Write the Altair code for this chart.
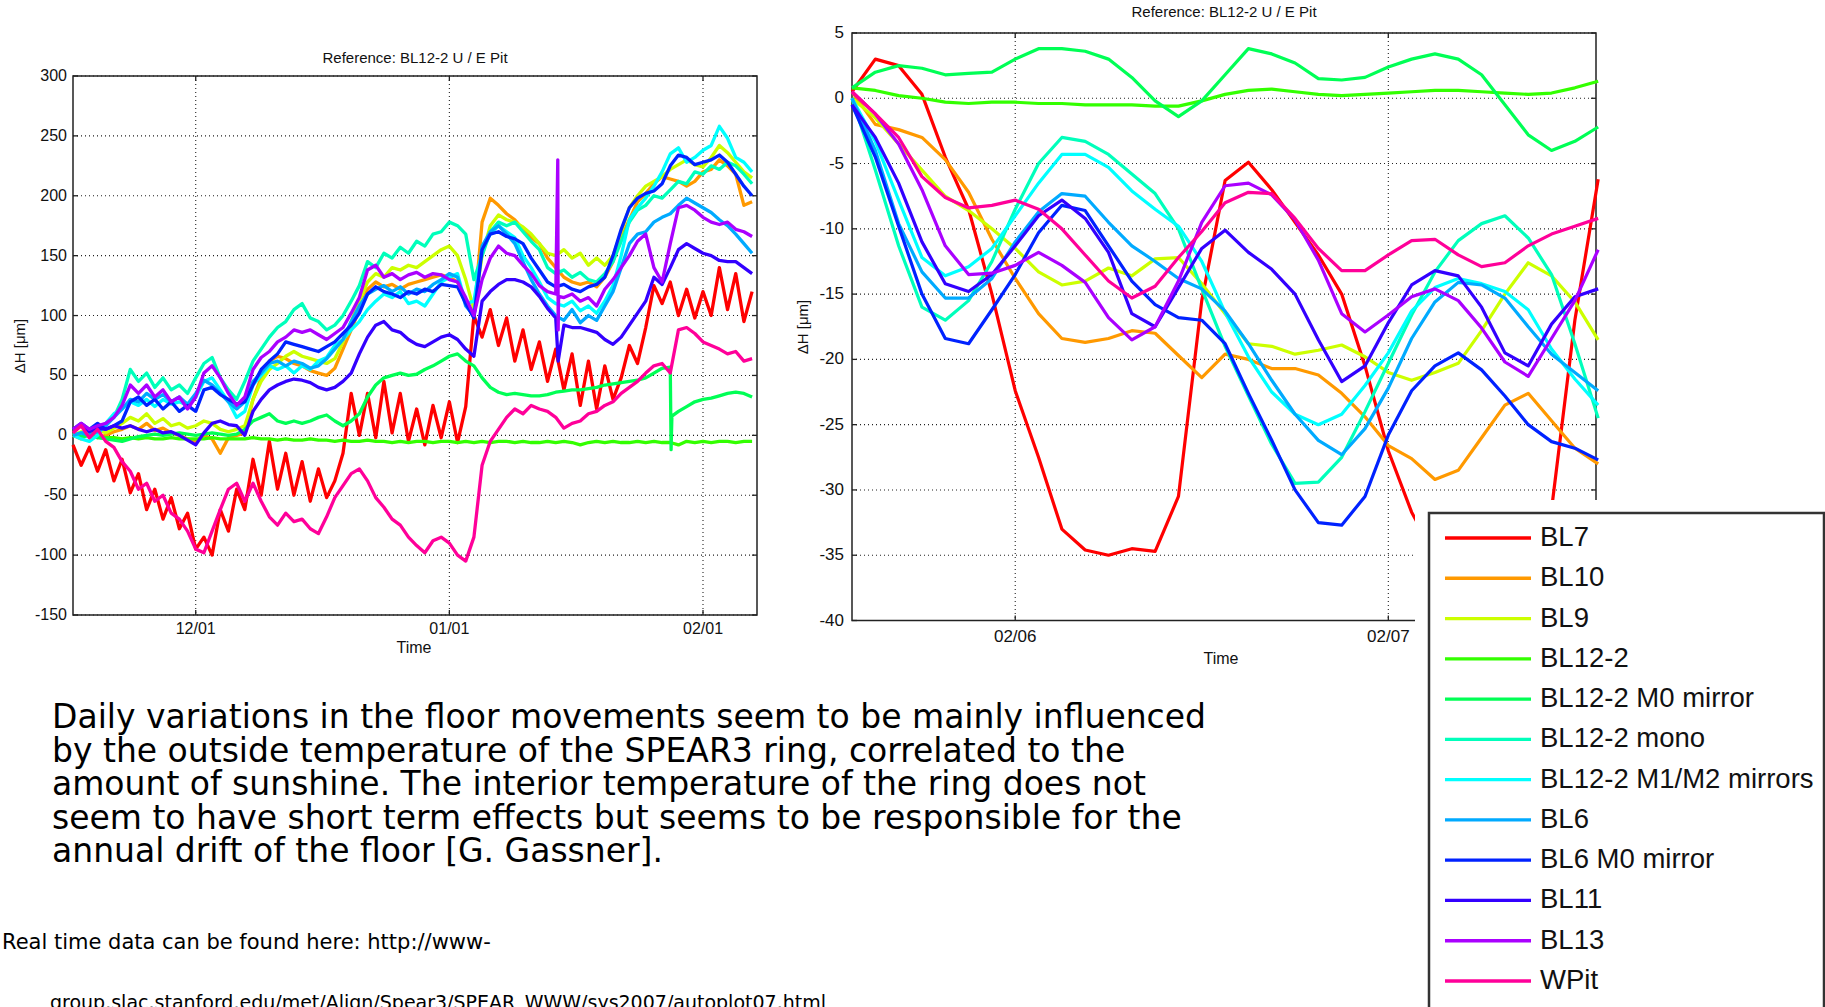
import altair as alt
import pandas as pd

FONT = "Liberation Sans"
SLIDE_FONT = "DejaVu Sans"

NAMES = ["BL7", "BL10", "BL9", "BL12-2", "BL12-2 M0 mirror", "BL12-2 mono",
         "BL12-2 M1/M2 mirrors", "BL6", "BL6 M0 mirror", "BL11", "BL13", "WPit"]
COLORS = ["#ff0000", "#ff9900", "#ccff00", "#33ff00", "#00ff55", "#00ffbb",
          "#00ffff", "#00aaff", "#0022ff", "#3300ff", "#aa00ff", "#ff0099"]

# ---------------- left panel: days since 11/16 ----------------
LEFT_DAYS = list(range(84))
L_BL7 = [-8, -25, -10, -30, -12, -38, -20, -48, -32, -62,
         -45, -70, -52, -78, -65, -95, -85, -100, -62, -80,
         -45, -62, -20, -50, -5, -45, -15, -50, -22, -55,
         -28, -52, -38, -15, 35, 0, 35, -2, 45, 2,
         35, -5, 22, -8, 25, -2, 28, -6, 24, 100,
         82, 105, 75, 98, 62, 88, 55, 78, 45, 72,
         38, 68, 25, 62, 22, 58, 30, 48, 75, 60,
         90, 125, 110, 128, 100, 122, 98, 120, 100, 140,
         105, 135, 95, 120]
L_BL10 = [0, -3, 2, -2, 0, 3, 5, 8, 5, 10,
          4, 6, 2, 0, -3, -5, 0, -3, -15, -2,
          0, 2, 30, 48, 62, 66, 64, 60, 58, 54,
          52, 50, 56, 72, 88, 105, 122, 128, 124, 126,
          122, 126, 128, 130, 132, 134, 132, 128, 112, 100,
          178, 198, 192, 185, 180, 172, 165, 160, 148, 140,
          132, 128, 126, 128, 124, 132, 145, 165, 180, 195,
          202, 210, 216, 214, 212, 208, 212, 220, 222, 230,
          225, 218, 192, 195]
L_BL9 = [0, 3, 0, 5, 2, 6, 10, 15, 12, 18,
         10, 14, 8, 10, 6, 8, 12, 10, 5, 3,
         5, 8, 30, 45, 55, 60, 66, 70, 66, 64,
         62, 60, 64, 78, 95, 112, 128, 135, 132, 140,
         138, 142, 140, 145, 150, 155, 158, 150, 130, 105,
         150, 175, 184, 180, 178, 174, 168, 160, 152, 150,
         155, 148, 152, 142, 148, 142, 150, 170, 190, 200,
         208, 212, 216, 222, 226, 230, 226, 224, 232, 242,
         236, 228, 220, 215]
L_BL122 = [0, -1, 0, -1, -2, -2, -3, -2, -3, -2,
           -3, -3, -2, -3, -3, -3, -3, -2, -3, -3,
           -3, -3, -2, -3, -3, -4, -3, -4, -4, -3,
           -4, -4, -5, -4, -5, -5, -4, -5, -5, -6,
           -5, -6, -5, -5, -6, -5, -5, -6, -5, -6,
           -5, -6, -5, -5, -6, -5, -6, -6, -5, -6,
           -5, -6, -8, -6, -5, -6, -5, -6, -6, -5,
           -6, -5, -6, -6, -8, -5, -6, -5, -6, -5,
           -5, -6, -5, -5]
L_M0 = [0, -1, 0, -2, -3, -4, -5, -3, -1, 0,
        1, 0, 1, 2, 1, 0, 1, 2, 1, 0,
        1, 5, 12, 15, 18, 12, 10, 12, 10, 12,
        15, 17, 12, 8, 12, 18, 32, 42, 48, 50,
        52, 50, 51, 55, 58, 62, 66, 68, 62, 58,
        48, 40, 36, 34, 35, 34, 33, 33, 34, 36,
        37, 38, 38, 39, 40, 42, 43, 44, 45, 46,
        48, 52, 56, 57, 20, 24, 28, 30, 31, 33,
        35, 36, 35, 32]
L_MONO = [0, 2, 4, 5, 10, 15, 30, 55, 45, 52,
          40, 48, 38, 42, 35, 48, 60, 65, 48, 38,
          30, 45, 62, 72, 82, 90, 95, 105, 110, 98,
          95, 88, 92, 100, 112, 125, 145, 140, 152, 148,
          157, 152, 162, 158, 168, 170, 178, 175, 168, 130,
          150, 170, 178, 175, 178, 170, 162, 155, 140, 135,
          138, 132, 136, 130, 128, 135, 145, 162, 178, 188,
          192, 200, 198, 205, 212, 210, 220, 218, 225, 222,
          228, 225, 218, 210]
L_M12 = [0, -3, -5, 0, 10, 18, 22, 28, 25, 30,
         24, 30, 26, 28, 25, 32, 45, 48, 38, 28,
         15, 20, 42, 50, 58, 55, 58, 52, 58, 55,
         62, 65, 75, 80, 88, 95, 105, 112, 118, 115,
         120, 110, 112, 108, 118, 128, 132, 135, 110, 112,
         155, 168, 175, 170, 165, 150, 140, 128, 115, 110,
         108, 112, 104, 108, 102, 112, 125, 150, 180, 190,
         198, 208, 220, 235, 240, 228, 232, 238, 242, 258,
         248, 232, 228, 220]
L_BL6 = [0, 2, 0, 3, 8, 15, 22, 30, 28, 35,
         30, 34, 28, 32, 26, 35, 46, 42, 35, 28,
         22, 28, 45, 52, 60, 62, 58, 62, 60, 56,
         58, 64, 72, 80, 95, 108, 118, 122, 125, 120,
         124, 118, 122, 120, 126, 130, 135, 132, 108, 100,
         158, 170, 175, 168, 160, 145, 130, 118, 108, 100,
         96, 105, 94, 100, 96, 108, 120, 140, 160, 168,
         170, 178, 182, 185, 192, 198, 194, 190, 186, 180,
         175, 168, 160, 152]
L_BL6M0 = [5, 10, 5, 10, 5, 8, 12, 28, 32, 25,
           30, 22, 28, 20, 25, 20, 38, 40, 34, 30,
           26, 28, 42, 55, 62, 68, 78, 76, 74, 72,
           70, 74, 78, 85, 92, 102, 118, 124, 120, 118,
           115, 120, 118, 122, 120, 126, 125, 124, 110, 98,
           155, 168, 170, 166, 164, 160, 148, 138, 128, 124,
           126, 122, 120, 124, 126, 132, 150, 172, 190, 198,
           202, 204, 210, 225, 234, 232, 226, 228, 230, 234,
           228, 218, 208, 200]
L_BL11 = [5, 8, 3, 6, 5, 8, 6, 8, 5, 3,
          5, 2, 3, 0, -4, -8, 2, 10, 12, 9,
          8, 0, 20, 30, 38, 42, 45, 47, 46, 44,
          40, 38, 40, 45, 52, 68, 82, 92, 95, 88,
          86, 80, 76, 74, 78, 82, 84, 80, 72, 66,
          112, 120, 126, 130, 130, 128, 124, 116, 106, 98,
          92, 90, 90, 88, 86, 80, 76, 82, 92, 102,
          112, 132, 126, 140, 155, 160, 156, 152, 150, 146,
          145, 145, 140, 135]
L_BL13 = [5, 10, 5, 8, 10, 15, 25, 42, 35, 42,
          32, 38, 28, 32, 22, 32, 52, 58, 48, 35,
          25, 32, 55, 65, 70, 78, 82, 88, 86, 88,
          84, 80, 85, 90, 102, 115, 138, 142, 132, 135,
          130, 134, 136, 132, 135, 134, 130, 128, 115, 100,
          130, 148, 158, 152, 150, 142, 135, 125, 120, 118,
          115, 118, 112, 115, 108, 122, 130, 140, 150, 162,
          168, 140, 128, 160, 190, 192, 188, 182, 178, 176,
          178, 172, 170, 166]
L_WPIT = [2, 8, -2, 5, -5, -10, -22, -30, -45, -40,
          -55, -50, -65, -70, -80, -95, -98, -80, -62, -45,
          -40, -55, -40, -55, -68, -75, -65, -72, -70, -78,
          -82, -68, -52, -42, -32, -28, -38, -52, -60, -70,
          -75, -85, -92, -98, -88, -85, -90, -100, -105, -85,
          -25, -5, 5, 15, 22, 18, 25, 22, 20, 15,
          6, 10, 12, 18, 20, 25, 28, 35, 40, 45,
          52, 58, 60, 52, 88, 90, 85, 78, 75, 72,
          68, 70, 62, 64]
LEFT_SERIES = [L_BL7, L_BL10, L_BL9, L_BL122, L_M0, L_MONO, L_M12,
               L_BL6, L_BL6M0, L_BL11, L_BL13, L_WPIT]

# short spikes
SPIKE_NAMES = ["BL13", "BL13", "BL13", "BL11", "BL12-2 M0 mirror", "BL12-2 M0 mirror"]
SPIKE_DAYS = [59.25, 59.3, 59.35, 59.3, 73.1, 73.2]
SPIKE_VALS = [230, 88, 116, 62, -12, 16]

LEFT_XTICK_DAYS = [15, 46, 77]
LEFT_XTICK_LABELS = ["12/01", "01/01", "02/01"]
LEFT_YTICKS = [300, 250, 200, 150, 100, 50, 0, -50, -100, -150]

# ---------------- right panel: hours since 02/05 13:30 ----------------
RIGHT_HOURS = [i * 1.5 for i in range(33)]
R_BL7 = [0.5, 3.0, 2.5, 0.3, -4.5, -8.5, -15, -22.4, -27.5, -33, -34.6, -35, -34.5,
         -34.7, -30.5, -15.5, -6.3, -4.9, -7, -9.5, -12, -15, -20.5, -27, -31.7,
         -35, -37, -38, -37, -35, -31.5, -17, -6.2]
R_BL10 = [0.5, -2.0, -2.4, -3, -4.7, -7.2, -10.8, -13.8, -16.5, -18.4, -18.7, -18.4,
          -17.8, -18, -19.7, -21.4, -19.6, -20, -20.7, -20.7, -21.2, -22.6, -24.4,
          -26.6, -27.6, -29.2, -28.5, -26, -23.5, -22.6, -24.7, -26.8, -28]
R_BL9 = [0, -1.5, -3.5, -5.5, -7.5, -8.6, -10, -11.5, -13.3, -14.3, -14, -13, -13.6,
         -12.3, -12.2, -14.2, -16.5, -18.8, -19, -19.6, -19.3, -18.9, -19.8, -21,
         -21.6, -21, -20.3, -17.8, -15, -12.6, -13.6, -15.6, -18.5]
R_BL122 = [0.8, 0.6, 0.2, 0.0, -0.3, -0.4, -0.3, -0.3, -0.4, -0.4, -0.5, -0.5, -0.5,
           -0.6, -0.6, -0.2, 0.3, 0.6, 0.7, 0.5, 0.3, 0.2, 0.3, 0.4, 0.5, 0.6, 0.6,
           0.5, 0.4, 0.3, 0.4, 0.8, 1.3]
R_M0 = [0.8, 2.0, 2.5, 2.3, 1.8, 1.9, 2.0, 3.0, 3.8, 3.8, 3.6, 3.0, 1.6, -0.2, -1.4,
        -0.2, 1.8, 3.8, 3.4, 2.7, 1.5, 1.4, 1.6, 2.4, 3.0, 3.4, 3.0, 1.8, -0.5, -2.8,
        -4.0, -3.3, -2.2]
R_MONO = [0, -5.5, -11.3, -16, -17, -15.5, -12.5, -8.5, -5, -3, -3.3, -4.3, -5.8, -7.3,
          -10, -14.6, -19, -22.8, -26.5, -29.5, -29.4, -27.5, -24, -20.3, -16.6, -13.3,
          -10.9, -9.6, -9, -10.7, -13.5, -18.8, -24.5]
R_M12 = [0, -3.3, -7.8, -12.2, -13.6, -12.9, -11.5, -9, -6.5, -4.3, -4.3, -5.3, -7.1,
         -8.5, -9.8, -12.5, -16.4, -19.8, -22.5, -24.2, -25, -24.2, -22, -19.5, -16.3,
         -14.5, -13.8, -14.2, -14.8, -16.2, -19.2, -21.5, -23.5]
R_BL6 = [0, -4, -9.6, -13.3, -15.3, -15.3, -13.8, -11, -8.7, -7.3, -7.5, -9.5, -11.3,
         -12.5, -13.8, -14.6, -16.3, -18.8, -21.6, -24.2, -26.2, -27.3, -25.3, -22.2,
         -18.4, -15.6, -14.1, -14.3, -15.3, -17.5, -19.6, -21, -22.4]
R_BL6M0 = [-0.5, -4.5, -9.8, -15, -18.4, -18.8, -16.2, -13.5, -10.3, -8.2, -8.6, -11.3,
           -14, -15.8, -16.8, -17, -18.8, -22.6, -26.2, -30, -32.5, -32.7, -30.5, -25.8,
           -22.4, -20.5, -19.5, -20.8, -22.8, -25, -26.3, -26.8, -27.7]
R_BL11 = [-0.5, -3, -6.5, -11, -14.2, -14.8, -13.5, -11.3, -9, -7.8, -9.2, -11.8, -16.5,
          -17.5, -14.5, -11.5, -10.1, -11.8, -13.1, -15, -18.5, -21.7, -20.5, -17.2,
          -14.3, -13.2, -13.6, -16, -19.5, -20.5, -17.3, -15.2, -14.6]
R_BL13 = [0.5, -1.2, -3.5, -7, -11.3, -13.5, -13.4, -12.8, -11.8, -12.8, -14.1, -16.8,
          -18.5, -17.5, -14, -9.5, -6.7, -6.5, -7.4, -9.3, -12.4, -16.5, -17.9, -16.6,
          -15.2, -14.6, -15.5, -17.6, -20.2, -21.3, -18.4, -15.5, -11.6]
R_WPIT = [0.5, -1.2, -3, -6, -7.6, -8.4, -8.2, -7.8, -8.5, -10, -12, -14, -15.3, -14.4,
          -12.2, -10.2, -8, -7.2, -7.3, -9.2, -11.5, -13.2, -13.2, -12, -10.9, -10.8,
          -12, -12.9, -12.6, -11.3, -10.4, -9.8, -9.2]
RIGHT_SERIES = [R_BL7, R_BL10, R_BL9, R_BL122, R_M0, R_MONO, R_M12,
                R_BL6, R_BL6M0, R_BL11, R_BL13, R_WPIT]

RIGHT_XTICK_HOURS = [10.5, 34.5]
RIGHT_XTICK_LABELS = ["02/06", "02/07"]
RIGHT_YTICKS = [5, 0, -5, -10, -15, -20, -25, -30, -35, -40]

TITLE = "Reference: BL12-2 U / E Pit"
PARAGRAPH_LINES = [
    "Daily variations in the floor movements seem to be mainly influenced",
    "by the outside temperature of the SPEAR3 ring, correlated to the",
    "amount of sunshine. The interior temperature of the ring does not",
    "seem to have short term effects but seems to be responsible for the",
    "annual drift of the floor [G. Gassner].",
]
FOOTER_1 = "Real time data can be found here: http://www-"
FOOTER_2 = "group.slac.stanford.edu/met/Align/Spear3/SPEAR_WWW/sys2007/autoplot07.html"

# ---------------- tables ----------------
rows = []
for name, vals in zip(NAMES, LEFT_SERIES):
    pts = list(zip(LEFT_DAYS, vals))
    pts += [(d, v) for n, d, v in zip(SPIKE_NAMES, SPIKE_DAYS, SPIKE_VALS) if n == name]
    for d, v in sorted(pts):
        rows.append({"name": name, "d": d, "v": v})
left_df = pd.DataFrame(rows)

rows = []
for name, vals in zip(NAMES, RIGHT_SERIES):
    for h, w in zip(RIGHT_HOURS, vals):
        rows.append({"name": name, "h": h, "w": w})
right_df = pd.DataFrame(rows)

one = pd.DataFrame({"k": [0]})
COLOR = alt.Color("name:N", scale=alt.Scale(domain=NAMES, range=COLORS), legend=None)
GRID = dict(color="#222222", strokeDash=[1, 3], strokeWidth=1.1)
TICK = dict(color="#222222", strokeWidth=1.3)


def panel(df, xf, yf, xdom, xrng, ydom, yrng, xt, xtl, yt, ylab_x, xlab_y,
          lw, title_xy, xtitle_xy, ytitle_xy, fs):
    xs = alt.Scale(domain=xdom, range=xrng, nice=False, zero=False)
    ys = alt.Scale(domain=ydom, range=yrng, nice=False, zero=False)
    X = lambda f=xf: alt.X(f"{f}:Q", scale=xs, axis=None)
    Y = lambda f=yf: alt.Y(f"{f}:Q", scale=ys, axis=None)
    x0, x1 = xrng
    ybot, ytop = yrng
    xt_df = pd.DataFrame({xf: xt, "label": xtl})
    yt_df = pd.DataFrame({yf: yt, "label": [str(t) for t in yt]})
    frame_df = pd.DataFrame({"a": [xdom[0]], "b": [xdom[1]], "c": [ydom[0]], "e": [ydom[1]]})
    layers = [
        alt.Chart(frame_df).mark_rect(fill="white", stroke="#222222", strokeWidth=1.5)
        .encode(x=X("a"), x2="b:Q", y=Y("c"), y2="e:Q"),
        alt.Chart(xt_df).mark_rule(**GRID).encode(x=X(), y=alt.value(ytop), y2=alt.value(ybot)),
        alt.Chart(yt_df).mark_rule(**GRID).encode(y=Y(), x=alt.value(x0), x2=alt.value(x1)),
        alt.Chart(xt_df).mark_rule(**TICK).encode(x=X(), y=alt.value(ybot), y2=alt.value(ybot - 5)),
        alt.Chart(xt_df).mark_rule(**TICK).encode(x=X(), y=alt.value(ytop), y2=alt.value(ytop + 5)),
        alt.Chart(yt_df).mark_rule(**TICK).encode(y=Y(), x=alt.value(x0), x2=alt.value(x0 + 5)),
        alt.Chart(yt_df).mark_rule(**TICK).encode(y=Y(), x=alt.value(x1), x2=alt.value(x1 - 5)),
        alt.Chart(df).mark_line(strokeWidth=lw, opacity=1, strokeJoin="round")
        .encode(x=X(), y=Y(), color=COLOR, detail="name:N"),
        alt.Chart(xt_df).mark_text(font=FONT, fontSize=fs, align="center", baseline="middle", color="#111")
        .encode(x=X(), y=alt.value(xlab_y), text="label:N"),
        alt.Chart(yt_df).mark_text(font=FONT, fontSize=fs, align="right", baseline="middle", color="#111")
        .encode(y=Y(), x=alt.value(ylab_x), text="label:N"),
        alt.Chart(one).mark_text(font=FONT, fontSize=15, align="center", baseline="middle", color="#111")
        .encode(x=alt.value(title_xy[0]), y=alt.value(title_xy[1]), text=alt.value(TITLE)),
        alt.Chart(one).mark_text(font=FONT, fontSize=16, align="center", baseline="middle", color="#111")
        .encode(x=alt.value(xtitle_xy[0]), y=alt.value(xtitle_xy[1]), text=alt.value("Time")),
        alt.Chart(one).mark_text(font=FONT, fontSize=15, align="center", baseline="middle",
                                 angle=270, color="#111")
        .encode(x=alt.value(ytitle_xy[0]), y=alt.value(ytitle_xy[1]), text=alt.value("ΔH [μm]")),
    ]
    return alt.layer(*layers)


left = panel(left_df, "d", "v", [0, 83.6], [73, 757], [-150, 300], [615, 76],
             LEFT_XTICK_DAYS, LEFT_XTICK_LABELS, LEFT_YTICKS, 67, 629, 3.3,
             (415, 58), (414, 648), (20, 346), 16)
right = panel(right_df, "h", "w", [0, 47.86], [852, 1596], [-40, 5], [620.5, 33],
              RIGHT_XTICK_HOURS, RIGHT_XTICK_LABELS, RIGHT_YTICKS, 844, 637, 3.2,
              (1224, 12), (1221, 659), (803, 327), 17)

# ---------------- legend + slide text ----------------
LEG_Y = alt.Scale(type="point", domain=NAMES, range=[538, 981], padding=0)
leg_df = pd.DataFrame({"name": NAMES})
decor = alt.layer(
    alt.Chart(one).mark_rect(fill="white").encode(
        x=alt.value(1415), x2=alt.value(1830), y=alt.value(500), y2=alt.value(1030)),
    alt.Chart(one).mark_rect(fill="white", stroke="#333333", strokeWidth=2.5).encode(
        x=alt.value(1429), x2=alt.value(1824), y=alt.value(513), y2=alt.value(1040)),
    alt.Chart(leg_df).mark_rule(strokeWidth=3.3).encode(
        x=alt.value(1445), x2=alt.value(1531),
        y=alt.Y("name:N", scale=LEG_Y, axis=None), color=COLOR),
    alt.Chart(leg_df).mark_text(font=FONT, fontSize=27.5, align="left", baseline="middle",
                                color="#111").encode(
        x=alt.value(1540), y=alt.Y("name:N", scale=LEG_Y, axis=None), text="name:N"),
    alt.Chart(one).mark_text(font=SLIDE_FONT, fontSize=33, align="left", baseline="alphabetic",
                             lineHeight=33.5, color="black").encode(
        x=alt.value(52), y=alt.value(728), text=alt.value(PARAGRAPH_LINES)),
    alt.Chart(one).mark_text(font=SLIDE_FONT, fontSize=21, align="left", baseline="alphabetic",
                             color="black").encode(
        x=alt.value(2), y=alt.value(949), text=alt.value(FOOTER_1)),
    alt.Chart(one).mark_text(font=SLIDE_FONT, fontSize=19, align="left", baseline="alphabetic",
                             color="black").encode(
        x=alt.value(50), y=alt.value(1009), text=alt.value(FOOTER_2)),
)

chart = (
    alt.layer(left, right, decor)
    .resolve_scale(x="independent", y="independent")
    .properties(width=1825, height=1007, padding=0,
                autosize=alt.AutoSizeParams(type="none"))
    .configure_view(strokeWidth=0)
)

chart.save("out.html", embed_options={"renderer": "svg", "actions": False})
